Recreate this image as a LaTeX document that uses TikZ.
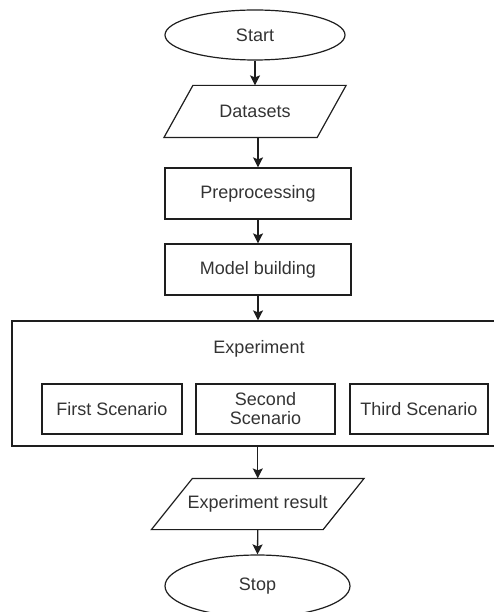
\documentclass[tikz,border=0pt]{standalone}
\usepackage{fontspec}
\setmainfont{Liberation Sans}
\usetikzlibrary{arrows.meta,shapes.geometric}
\definecolor{lineC}{HTML}{1E1E1E}
\definecolor{textC}{HTML}{333333}
\tikzset{
  base/.style={draw=lineC, line width=1.2pt, text=textC, inner sep=0pt,
    font=\fontsize{18}{19}\selectfont, align=center},
  term/.style={base, ellipse},
  procbox/.style={base, rectangle},
  iobox/.style={base, draw=none, rectangle},
  para/.style={draw=lineC, line width=1.2pt},
  conn/.style={draw=lineC, line width=1.3pt, -{Stealth[length=10pt,width=10pt,inset=2pt]}},
}
\begin{document}
\begin{tikzpicture}[x=1pt,y=-1pt]
\useasboundingbox (0,0) rectangle (493,612);
% terminals
\node[term, minimum width=180pt, minimum height=50pt] (start) at (255,35) {Start};
% datasets parallelogram
\node[iobox, minimum width=152pt, minimum height=51pt] (data) at (255,111.5) {Datasets};
\draw[para] ([xshift=-14.5pt]data.south west) -- ([xshift=14.5pt]data.north west)
  -- ([xshift=14.5pt]data.north east) -- ([xshift=-14.5pt]data.south east) -- cycle;
% process boxes
\node[procbox, minimum width=186pt, minimum height=51pt] (prep) at (258,193.5) {Preprocessing};
\node[procbox, minimum width=186pt, minimum height=51pt] (model) at (258,269.5) {Model building};
% experiment container
\node[procbox, minimum width=488pt, minimum height=125pt] (exp) at (256,383.5) {};
\node[base, draw=none] (explabel) at (259,349) {Experiment};
\node[procbox, minimum width=140pt, minimum height=50pt] (s1) at (112,409) {First Scenario};
\node[procbox, minimum width=139pt, minimum height=50pt] (s2) at (265.5,409) {Second\\Scenario};
\node[procbox, minimum width=138pt, minimum height=50pt] (s3) at (419,409) {Third Scenario};
% experiment result parallelogram
\node[iobox, minimum width=170.5pt, minimum height=50pt] (res) at (257.75,504) {Experiment result};
\draw[para] ([xshift=-20.5pt]res.south west) -- ([xshift=20.5pt]res.north west)
  -- ([xshift=20.5pt]res.north east) -- ([xshift=-20.5pt]res.south east) -- cycle;
\node[term, minimum width=185pt, minimum height=62pt] (stop) at (257.5,586) {Stop};
% connectors
\draw[conn] (start.south -| data.north) -- (data.north);
\draw[conn] (data.south -| prep.north) -- (prep.north);
\draw[conn] (prep.south) -- (model.north);
\draw[conn] (model.south) -- (model.south |- exp.north);
\draw[conn] (res.north |- exp.south) -- (res.north);
\draw[conn] (res.south) -- (stop.north);
\end{tikzpicture}
\end{document}
